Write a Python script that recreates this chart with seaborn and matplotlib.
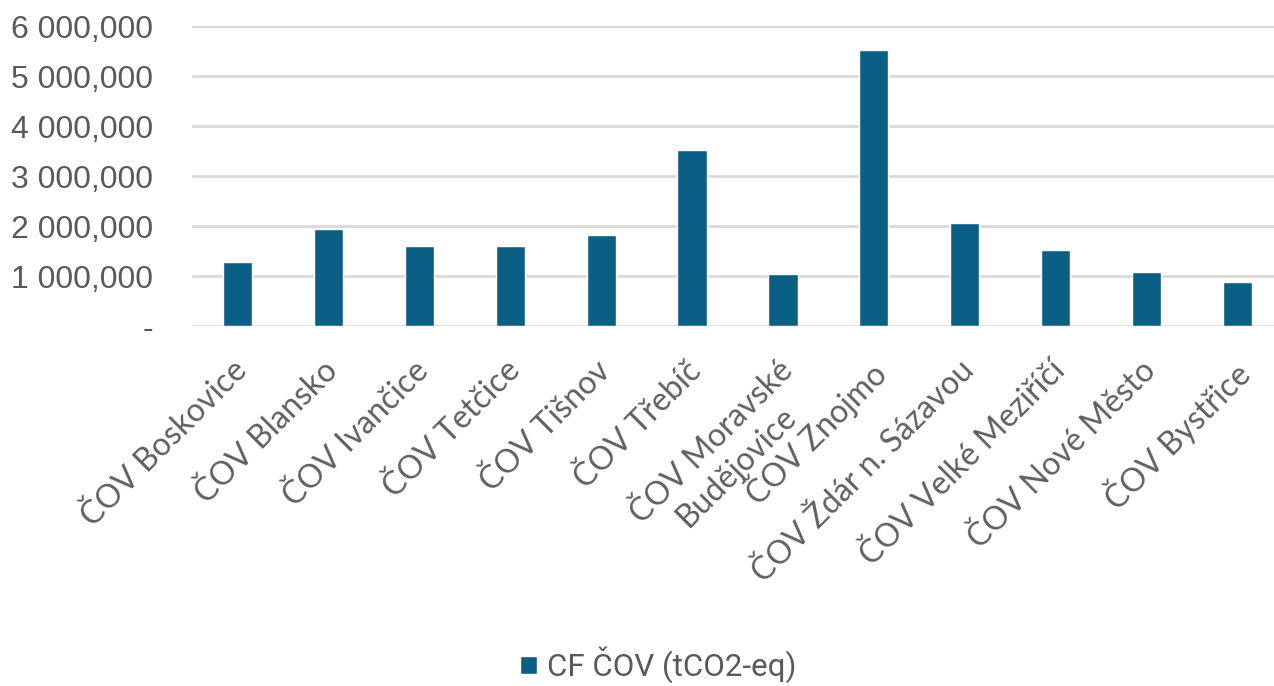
import matplotlib
matplotlib.use("Agg")
import matplotlib.pyplot as plt
import matplotlib.transforms as mtransforms
import seaborn as sns
import pandas as pd
from matplotlib.ticker import FuncFormatter, FixedLocator

categories = ["ČOV Boskovice", "ČOV Blansko", "ČOV Ivančice", "ČOV Tetčice",
              "ČOV Tišnov", "ČOV Třebíč", "ČOV Moravské\nBudějovice", "ČOV Znojmo",
              "ČOV Ždár n. Sázavou", "ČOV Velké Meziříčí", "ČOV Nové Město", "ČOV Bystřice"]
values = [1280.0, 1950.0, 1600.0, 1600.0, 1830.0, 3530.0,
          1050.0, 5520.0, 2070.0, 1520.0, 1080.0, 890.0]
series_name = "CF ČOV (tCO2-eq)"
y_ticks = [0, 1000, 2000, 3000, 4000, 5000, 6000]

sns.set_theme(style="white")
plt.rcParams['font.family'] = ['Liberation Sans', 'DejaVu Sans']

df = pd.DataFrame({"cat": categories, "val": values, "series": series_name})

fig = plt.figure(figsize=(12.74, 6.86), dpi=100)
ax = fig.add_axes([192/1274, (686-326)/686, (1283-192)/1274, 300/686])

sns.barplot(data=df, x="cat", y="val", hue="series", palette=["#0b5e84"],
            width=0.32, ax=ax, saturation=1)

ax.set_ylim(0, 6000)
ax.set_xlim(-0.5, 11.5)
ax.yaxis.set_major_locator(FixedLocator(y_ticks))

def fmt(v, pos):
    if v == 0:
        return "-"
    s = f"{v:,.3f}"
    return s.replace(",", " ").replace(".", ",")

ax.yaxis.set_major_formatter(FuncFormatter(fmt))
ax.grid(axis="y", color="#d9d9d9", linewidth=2)
ax.set_axisbelow(True)
for sp in ax.spines.values():
    sp.set_visible(False)
ax.set_xlabel("")
ax.set_ylabel("")
ax.tick_params(axis="y", length=0, pad=28, labelsize=23, labelcolor="#595959")
ax.tick_params(axis="x", length=0, pad=21)
ax.set_xticks(range(len(categories)))
ax.set_xticklabels(categories, rotation=45, ha="right", va="top",
                   rotation_mode="anchor", fontsize=23, color="#5f5f5f",
                   family=["Lato", "DejaVu Sans"], multialignment="center")
offset = mtransforms.ScaledTranslation(-0.06, 0, fig.dpi_scale_trans)
for lbl in ax.get_xticklabels():
    lbl.set_transform(lbl.get_transform() + offset)

ax.legend_.remove()
handles, labels = ax.get_legend_handles_labels()
fig.legend(handles, labels, loc="center", bbox_to_anchor=(658/1274, 1 - 665/686),
           frameon=False, labelcolor="#595959",
           prop={"family": ["Roboto", "DejaVu Sans"], "size": 22.5},
           handlelength=0.55, handleheight=0.55, handletextpad=0.3,
           borderpad=0, borderaxespad=0)

fig.savefig("out.png", dpi=100)
